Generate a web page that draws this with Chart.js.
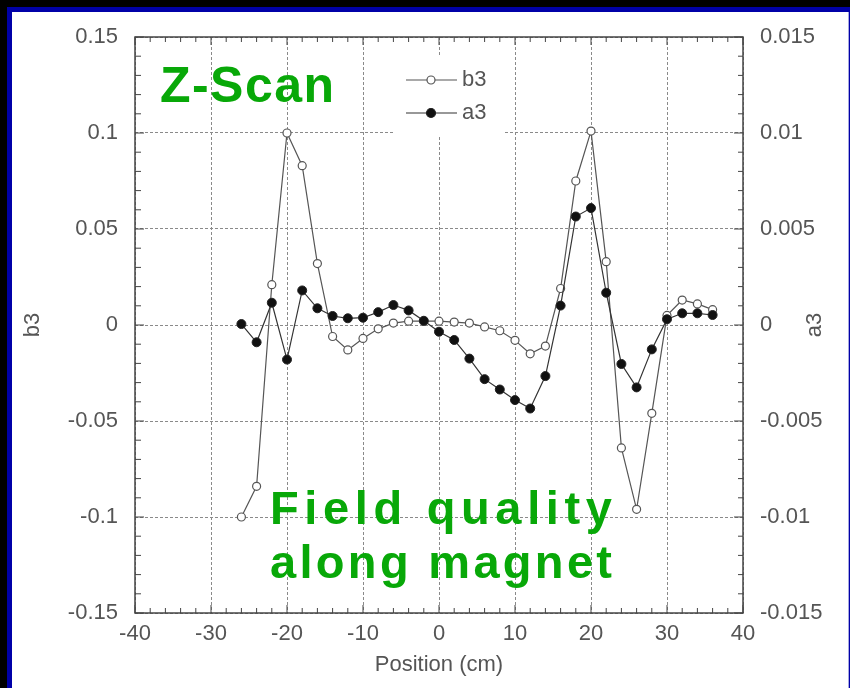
<!DOCTYPE html>
<html><head><meta charset="utf-8">
<script src="https://cdn.jsdelivr.net/npm/chart.js@4.4.1/dist/chart.umd.min.js"></script>
<style>
html,body{margin:0;padding:0;background:#000;width:850px;height:688px;overflow:hidden;}
#blue{position:absolute;left:7px;top:7px;width:843px;height:681px;background:#0000a8;}
#white{position:absolute;left:12px;top:12px;width:837px;height:676px;background:#fff;border-right:1px solid #a8a8e0;box-sizing:border-box;}
#wrap{position:absolute;left:0;top:0;width:850px;height:688px;}
</style></head><body>
<div id="blue"></div><div id="white"></div>
<div id="wrap"><canvas id="c" width="850" height="688"></canvas></div>
<script>
// ---- data ----
const positions = [-26,-24,-22,-20,-18,-16,-14,-12,-10,-8,-6,-4,-2,0,2,4,6,8,10,12,14,16,18,20,22,24,26,28,30,32,34,36];
const b3Values = [-0.100,-0.084,0.021,0.100,0.083,0.032,-0.006,-0.013,-0.007,-0.002,0.001,0.002,0.002,0.002,0.0015,0.001,-0.001,-0.003,-0.008,-0.015,-0.011,0.019,0.075,0.101,0.033,-0.064,-0.096,-0.046,0.005,0.013,0.011,0.008];
const a3Values = [0.00005,-0.0009,0.00116,-0.0018,0.0018,0.00087,0.00047,0.00035,0.00038,0.00067,0.00104,0.00076,0.00022,-0.00035,-0.00078,-0.00175,-0.00282,-0.00336,-0.00391,-0.00435,-0.00266,0.00101,0.00565,0.00609,0.00168,-0.00203,-0.00325,-0.00127,0.0003,0.00061,0.00061,0.00052];
const xTicks = [-40,-30,-20,-10,0,10,20,30,40];
const b3Ticks = [-0.15,-0.1,-0.05,0,0.05,0.1,0.15];
const a3Ticks = [-0.015,-0.01,-0.005,0,0.005,0.01,0.015];
const xMinorStep = 2;
const b3MinorStep = 0.01;
const a3MinorStep = 0.001;
const seriesNames = ['b3','a3'];
const xTitle = 'Position (cm)';
const overlayTitle = 'Z-Scan';
const overlayNote = ['Field quality','along magnet'];

const TXT = '#555';
const tickFont = {family:'"Liberation Sans", Arial, sans-serif', size:22};
const fmt = v => String(Number(v.toFixed(4)));

const frameAndTicks = {
  id:'frameAndTicks',
  beforeDatasetsDraw(chart){
    const {ctx, chartArea:a, scales} = chart;
    ctx.save();
    // legend background (blanks grid like the original)
    ctx.fillStyle = '#fff';
    ctx.fillRect(393, 56, 112, 80);
    ctx.strokeStyle = '#444';
    ctx.lineWidth = 1.5;
    ctx.strokeRect(a.left, a.top, a.right-a.left, a.bottom-a.top);
    ctx.lineWidth = 1;
    ctx.beginPath();
    const xs = scales.x;
    for (let i = Math.round(xs.min/xMinorStep); i <= Math.round(xs.max/xMinorStep); i++){
      const v = i*xMinorStep, p = xs.getPixelForValue(v);
      const len = (Math.abs(v % 10) < 1e-9) ? 8 : 5;
      ctx.moveTo(p, a.bottom); ctx.lineTo(p, a.bottom-len);
      ctx.moveTo(p, a.top); ctx.lineTo(p, a.top+len);
    }
    const ys = scales.y;
    for (let i = Math.round(ys.min/b3MinorStep); i <= Math.round(ys.max/b3MinorStep); i++){
      const v = i*b3MinorStep, p = ys.getPixelForValue(v);
      const len = (Math.abs(Math.round(v*1000) % 50) === 0) ? 9 : 6;
      ctx.moveTo(a.left, p); ctx.lineTo(a.left+len, p);
    }
    const y2 = scales.y2;
    for (let i = Math.round(y2.min/a3MinorStep); i <= Math.round(y2.max/a3MinorStep); i++){
      const v = i*a3MinorStep, p = y2.getPixelForValue(v);
      const len = (Math.abs(Math.round(v*10000) % 50) === 0) ? 9 : 5;
      ctx.moveTo(a.right, p); ctx.lineTo(a.right-len, p);
    }
    ctx.stroke();
    ctx.restore();
  },
  afterDraw(chart){
    const {ctx, chartArea:a} = chart;
    ctx.save();
    // legend
    const ds = chart.data.datasets;
    const rows = [{d:ds[1], y:80},{d:ds[0], y:113}];
    rows.forEach(r=>{
      ctx.strokeStyle = r.d.borderColor; ctx.lineWidth = 1.2;
      ctx.beginPath(); ctx.moveTo(406, r.y); ctx.lineTo(457, r.y); ctx.stroke();
      ctx.beginPath(); ctx.arc(431, r.y, r.d.pointRadius, 0, Math.PI*2);
      ctx.fillStyle = r.d.pointBackgroundColor; ctx.fill();
      ctx.strokeStyle = r.d.pointBorderColor; ctx.stroke();
      ctx.fillStyle = TXT; ctx.font = '22px "Liberation Sans", Arial, sans-serif';
      ctx.textBaseline = 'middle'; ctx.textAlign = 'left';
      ctx.fillText(r.d.label, 462, r.y);
    });
    // right axis title
    ctx.save();
    ctx.translate(815, (a.top+a.bottom)/2);
    ctx.rotate(-Math.PI/2);
    ctx.textAlign='center'; ctx.textBaseline='middle';
    ctx.fillText(seriesNames[1], 0, 0);
    ctx.restore();
    // green overlay text
    ctx.fillStyle = '#08a808';
    ctx.textBaseline = 'alphabetic'; ctx.textAlign = 'left';
    const fitText = (txt, x, y, w, size) => {
      ctx.font = 'bold '+size+'px "Liberation Sans", Arial, sans-serif';
      ctx.letterSpacing = '0px';
      const m = ctx.measureText(txt).width;
      const sp = (w - m) / (txt.length - 1);
      ctx.letterSpacing = sp + 'px';
      ctx.fillText(txt, x, y);
      ctx.letterSpacing = '0px';
    };
    fitText(overlayTitle, 160, 102, 174, 50);
    fitText(overlayNote[0], 270, 524, 342, 47);
    fitText(overlayNote[1], 270, 578, 342, 47);
    ctx.restore();
  }
};

new Chart(document.getElementById('c'), {
  type:'line',
  data:{
    datasets:[
      {label:seriesNames[1], yAxisID:'y2', order:0,
       data: positions.map((x,i)=>({x, y:a3Values[i]})),
       borderColor:'#333', borderWidth:1.2, pointRadius:4.5, pointBackgroundColor:'#111',
       pointBorderColor:'#222', pointBorderWidth:1, tension:0},
      {label:seriesNames[0], yAxisID:'y', order:1,
       data: positions.map((x,i)=>({x, y:b3Values[i]})),
       borderColor:'#555', borderWidth:1.2, pointRadius:4, pointBackgroundColor:'#fff',
       pointBorderColor:'#555', pointBorderWidth:1.2, tension:0}
    ]
  },
  options:{
    responsive:false, animation:false, devicePixelRatio:1,
    layout:{padding:{top:37,left:0,right:0,bottom:0}},
    plugins:{legend:{display:false}, tooltip:{enabled:false}},
    scales:{
      x:{type:'linear', min:-40, max:40, position:'bottom',
         afterBuildTicks:s=>{s.ticks = xTicks.map(v=>({value:v}));},
         afterFit:s=>{s.height = 75;},
         grid:{color:'#8a8a8a', lineWidth:1, drawTicks:false},
         border:{display:false, dash:[3,2]},
         ticks:{font:tickFont, color:TXT, padding:8, maxRotation:0, callback:v=>fmt(v)},
         title:{display:true, text:xTitle, font:tickFont, color:TXT, padding:{top:0,bottom:10}}},
      y:{type:'linear', min:-0.15, max:0.15, position:'left',
         afterBuildTicks:s=>{s.ticks = b3Ticks.map(v=>({value:v}));},
         afterFit:s=>{s.width = 135;},
         grid:{color:'#8a8a8a', lineWidth:1, drawTicks:false},
         border:{display:false, dash:[3,2]},
         ticks:{font:tickFont, color:TXT, padding:17, callback:v=>fmt(v)},
         title:{display:true, text:seriesNames[0], font:tickFont, color:TXT, padding:{top:20,bottom:0}}},
      y2:{type:'linear', min:-0.015, max:0.015, position:'right',
         afterBuildTicks:s=>{s.ticks = a3Ticks.map(v=>({value:v}));},
         afterFit:s=>{s.width = 107;},
         grid:{display:false, drawOnChartArea:false, drawTicks:false},
         border:{display:false},
         ticks:{font:tickFont, color:TXT, padding:17, callback:v=>fmt(v)}}
    }
  },
  plugins:[frameAndTicks]
});
</script>
</body></html>
